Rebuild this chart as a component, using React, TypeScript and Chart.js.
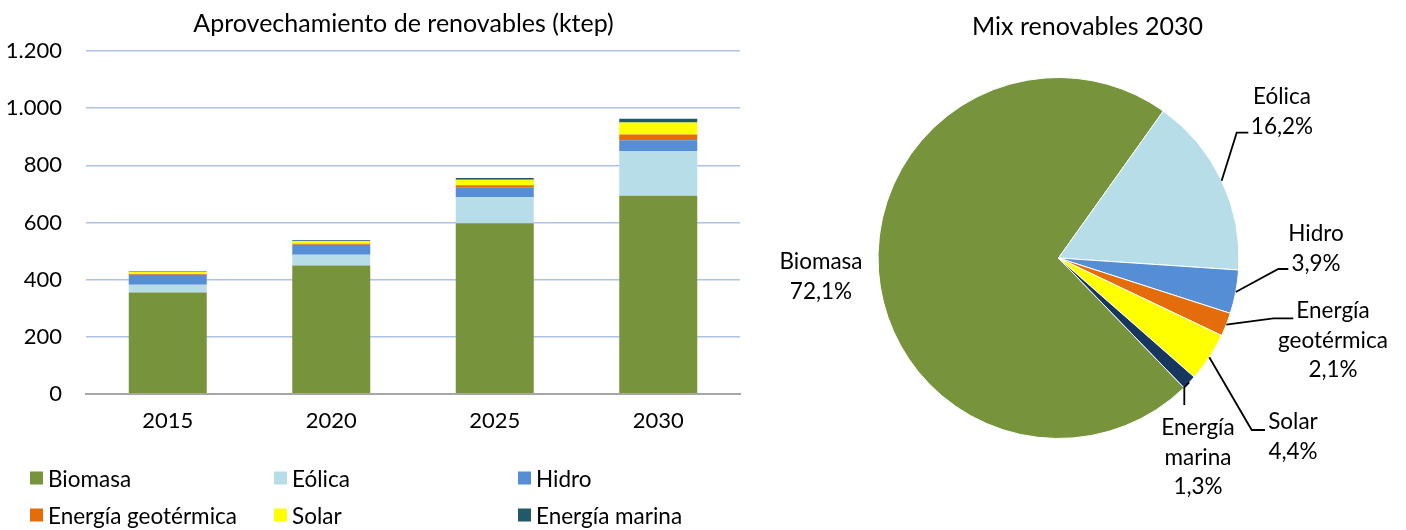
import React, { useEffect, useRef } from "react";
import { Chart, registerables } from "chart.js";

Chart.register(...registerables);

// ---------- data ----------
const categories = ["2015", "2020", "2025", "2030"];
const seriesNames = ["Biomasa", "Eólica", "Hidro", "Energía geotérmica", "Solar", "Energía marina"];
const biomasa = [355, 450, 597, 694];
const eolica = [27, 37, 91, 156];
const hidro = [35, 35, 35, 38];
const geotermica = [3, 4, 7, 20];
const solar = [7, 9, 20, 42];
const marina = [2, 3, 6, 13];
const yTicks = [0, 200, 400, 600, 800, 1000, 1200];

const pieTitle = "Mix renovables 2030";
const barTitle = "Aprovechamiento de renovables (ktep)";
const pieLabels = ["Biomasa", "Eólica", "Hidro", "Energía\ngeotérmica", "Solar", "Energía\nmarina"];
const pieValues = [72.1, 16.2, 3.9, 2.1, 4.4, 1.3];

// ---------- styles ----------
const FONT = "Lato, 'Noto Sans', sans-serif";
const barColors = ["#77933C", "#B7DEE8", "#558ED5", "#E46C0A", "#FFFF00", "#215968"];
const pieColors = ["#77933C", "#B7DEE8", "#558ED5", "#E46C0A", "#FFFF00", "#17375E"];

// label layout relative to pie centre (px)
const pieLabelLayout: { elbow?: number[]; end?: number[]; text: number[] }[] = [
  { text: [-237.5, 4] },
  { elbow: [178.2, -125.3], end: [189.8, -125.3], text: [223.5, -161] },
  { elbow: [219.8, 11], end: [229.8, 11], text: [257.5, -24] },
  { elbow: [214.8, 60.3], end: [234.8, 60.3], text: [274.5, 53] },
  { elbow: [193.2, 172], end: [206.5, 172], text: [234.5, 164] },
  { elbow: [125.8, 129.3], end: [125.8, 147], text: [139.5, 170] },
];

const fmtThousands = (v: number) => String(v).replace(/\B(?=(\d{3})+(?!\d))/g, ".");
const fmtPct = (v: number) => v.toFixed(1).replace(".", ",") + "%";

const pieLabelPlugin = {
  id: "pieLabels",
  afterDraw(chart: any) {
    const meta = chart.getDatasetMeta(0);
    const ctx = chart.ctx;
    ctx.save();
    meta.data.forEach((arc: any, i: number) => {
      const { x, y, startAngle, endAngle, outerRadius } = arc.getProps(
        ["x", "y", "startAngle", "endAngle", "outerRadius"],
        true
      );
      const lay = pieLabelLayout[i];
      if (lay.elbow && lay.end) {
        const mid = (startAngle + endAngle) / 2;
        ctx.beginPath();
        ctx.moveTo(x + Math.cos(mid) * outerRadius, y + Math.sin(mid) * outerRadius);
        ctx.lineTo(x + lay.elbow[0], y + lay.elbow[1]);
        ctx.lineTo(x + lay.end[0], y + lay.end[1]);
        ctx.strokeStyle = "#000";
        ctx.lineWidth = 1.8;
        ctx.stroke();
      }
      const lines = [...pieLabels[i].split("\n"), fmtPct(pieValues[i])];
      ctx.fillStyle = "#000";
      ctx.font = `22.5px ${FONT}`;
      ctx.textAlign = "center";
      ctx.textBaseline = "middle";
      lines.forEach((t, k) => {
        ctx.fillText(t, x + lay.text[0], y + lay.text[1] + k * 29.5);
      });
    });
    ctx.restore();
  },
};

export default function App() {
  const barRef = useRef<HTMLCanvasElement>(null);
  const pieRef = useRef<HTMLCanvasElement>(null);

  useEffect(() => {
    const series = [biomasa, eolica, hidro, geotermica, solar, marina];
    const bar = new Chart(barRef.current!, {
      type: "bar",
      data: {
        labels: categories,
        datasets: series.map((d, i) => ({
          label: seriesNames[i],
          data: d,
          backgroundColor: barColors[i],
          borderWidth: 0,
          categoryPercentage: 1,
          barPercentage: 0.477,
        })),
      },
      options: {
        responsive: false,
        animation: false,
        layout: { padding: { top: 51, right: 20, left: 0, bottom: 0 } },
        plugins: { legend: { display: false }, title: { display: false }, tooltip: { enabled: false } },
        scales: {
          x: {
            stacked: true,
            grid: { display: false, drawTicks: false },
            border: { display: true, color: "#A6A6A6", width: 2 },
            ticks: { padding: 14, color: "#000", font: { family: FONT, size: 22 } },
            afterFit: (s: any) => {
              s.height = 136;
            },
          },
          y: {
            stacked: true,
            min: yTicks[0],
            max: yTicks[yTicks.length - 1],
            afterBuildTicks: (s: any) => {
              s.ticks = yTicks.map((v) => ({ value: v }));
            },
            ticks: {
              padding: 24,
              color: "#000",
              font: { family: FONT, size: 22 },
              callback: (v: any) => fmtThousands(Number(v)),
            },
            grid: {
              drawTicks: false,
              color: (c: any) => (c.tick && c.tick.value === 0 ? "#A6A6A6" : "#ADC2E6"),
              lineWidth: (c: any) => (c.tick && c.tick.value === 0 ? 2 : 1.6),
            },
            border: { display: false },
            afterFit: (s: any) => {
              s.width = 86;
            },
          },
        },
      },
    } as any);

    const startEolica = 35.5;
    const pie = new Chart(pieRef.current!, {
      type: "pie",
      data: {
        labels: seriesNames,
        datasets: [
          {
            data: pieValues,
            backgroundColor: pieColors,
            borderColor: "#FFFFFF",
            borderWidth: 1,
          },
        ],
      },
      options: {
        responsive: false,
        animation: false,
        rotation: startEolica - (pieValues[0] / 100) * 360,
        layout: { padding: { left: 107.5, right: 166.5, top: 77, bottom: 91 } },
        plugins: { legend: { display: false }, tooltip: { enabled: false }, title: { display: false } },
      },
      plugins: [pieLabelPlugin],
    } as any);

    return () => {
      bar.destroy();
      pie.destroy();
    };
  }, []);

  const legendCols = [30, 274, 518];
  const legendRows = [478, 515];

  return (
    <div
      style={{
        position: "fixed",
        left: 0,
        top: 0,
        width: 1406,
        height: 530,
        background: "#fff",
        fontFamily: FONT,
        color: "#000",
        overflow: "hidden",
      }}
    >
      <canvas ref={barRef} width={760} height={530} style={{ position: "absolute", left: 0, top: 0, width: 760, height: 530 }} />
      <canvas ref={pieRef} width={636} height={530} style={{ position: "absolute", left: 770, top: 0, width: 636, height: 530 }} />
      <div
        style={{
          position: "absolute",
          left: 403.5,
          top: 22,
          transform: "translate(-50%, -50%)",
          fontSize: 25,
          whiteSpace: "nowrap",
        }}
      >
        {barTitle}
      </div>
      <div
        style={{
          position: "absolute",
          left: 1087.5,
          top: 25,
          transform: "translate(-50%, -50%)",
          fontSize: 25,
          whiteSpace: "nowrap",
        }}
      >
        {pieTitle}
      </div>
      {seriesNames.map((name, i) => (
        <div
          key={name}
          style={{
            position: "absolute",
            left: legendCols[i % 3],
            top: legendRows[Math.floor(i / 3)],
            transform: "translateY(-50%)",
            display: "flex",
            alignItems: "center",
            fontSize: 22.5,
            whiteSpace: "nowrap",
          }}
        >
          <span style={{ display: "inline-block", width: 13, height: 13, background: barColors[i], marginRight: 5 }} />
          <span>{name}</span>
        </div>
      ))}
    </div>
  );
}
